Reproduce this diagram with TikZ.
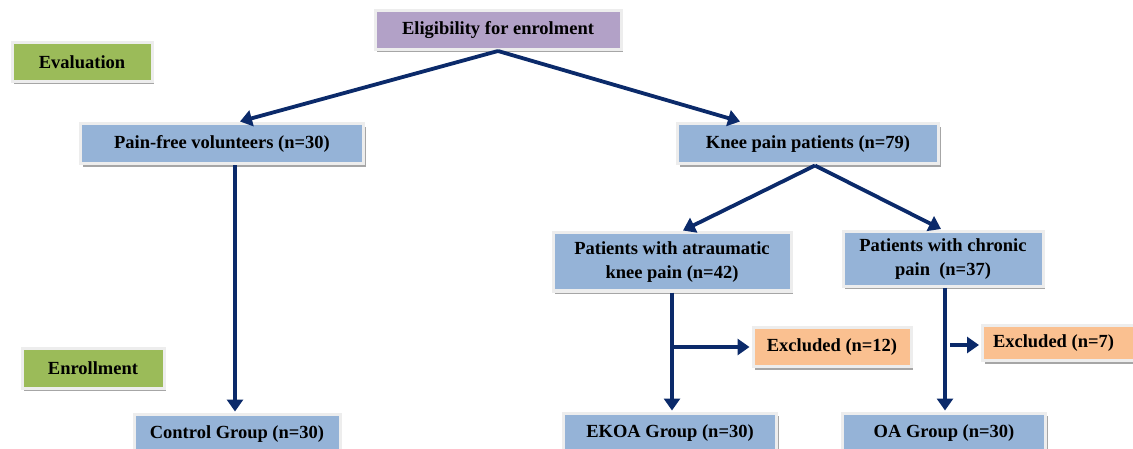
\documentclass[tikz,border=0pt]{standalone}
\usepackage{fontspec}
\setmainfont{Liberation Serif}
\usetikzlibrary{shadows,arrows.meta,calc}
\definecolor{evgreen}{HTML}{9BBB59}
\definecolor{elpurple}{HTML}{B2A1C7}
\definecolor{bxblue}{HTML}{95B3D7}
\definecolor{exorange}{HTML}{FAC090}
\definecolor{navy}{HTML}{0B2A6A}
\tikzset{
  box/.style={draw=black!7, line width=3pt, font=\bfseries\fontsize{18.5}{24}\selectfont,
    align=center, inner sep=2pt,
    drop shadow={shadow xshift=2pt, shadow yshift=-3pt, fill=black!35, opacity=1}},
  conn/.style={draw=navy, line width=3.8pt, -{Triangle[length=12pt,width=16pt]}},
}
\begin{document}
\begin{tikzpicture}[x=1pt,y=-1pt]
\useasboundingbox (0,0) rectangle (1133,449);
\node[box, fill=evgreen, minimum width=140, minimum height=39] (eval) at (82,62) {Evaluation};
\node[box, fill=elpurple, minimum width=246, minimum height=39] (elig) at (498,30) {Eligibility for enrolment};
\node[box, fill=bxblue, minimum width=283, minimum height=40] (pf) at (222,144) {Pain-free volunteers (n=30)};
\node[box, fill=bxblue, minimum width=261, minimum height=40] (knee) at (808,144) {Knee pain patients (n=79)};
\node[box, fill=bxblue, minimum width=238, minimum height=58] (atr) at (672,262) {Patients with atraumatic\\knee pain (n=42)};
\node[box, fill=bxblue, minimum width=200, minimum height=55] (chr) at (943,259) {Patients with chronic\\pain~~(n=37)};
\node[box, fill=exorange, minimum width=158, minimum height=39] (exa) at (832,347) {Excluded (n=12)};
\node[box, fill=exorange, minimum width=153, minimum height=35, anchor=west] (exb) at (981,343) {\makebox[146pt][l]{\hspace{7pt}Excluded (n=7)}};
\node[box, fill=evgreen, minimum width=142, minimum height=40] (enr) at (93,368) {Enrollment};
\node[box, fill=bxblue, minimum width=206, minimum height=40] (ctrl) at (237,434) {Control Group (n=30)};
\node[box, fill=bxblue, minimum width=213, minimum height=40] (ekoa) at (670,433) {EKOA Group (n=30)};
\node[box, fill=bxblue, minimum width=203, minimum height=40] (oa) at (944,433) {OA Group (n=30)};
% connectors
\draw[conn] (elig.south) -- ($(pf.north)+(18,-1)$);
\draw[conn] (elig.south) -- ($(knee.north)+(-68,-1)$);
\draw[conn] ($(knee.south)+(7,0)$) -- ($(atr.north)+(11,-1)$);
\draw[conn] ($(knee.south)+(7,0)$) -- ($(chr.north)+(-2,-1)$);
\draw[conn] ($(pf.south)+(13,0)$) -- ($(ctrl.north)+(-2,-1)$);
\draw[conn] (atr.south) -- ($(ekoa.north)+(2,-1)$);
\draw[conn] (atr.south |- exa.west) -- ($(exa.west)+(-2,0)$);
\draw[conn] ($(chr.south)+(2,0)$) -- ($(oa.north)+(1,-1)$);
\coordinate (bstart) at ($(chr.south |- exb.west)+(7,2)$);
\draw[conn] (bstart) -- ($(exb.west)+(-2,2)$);
\end{tikzpicture}
\end{document}
